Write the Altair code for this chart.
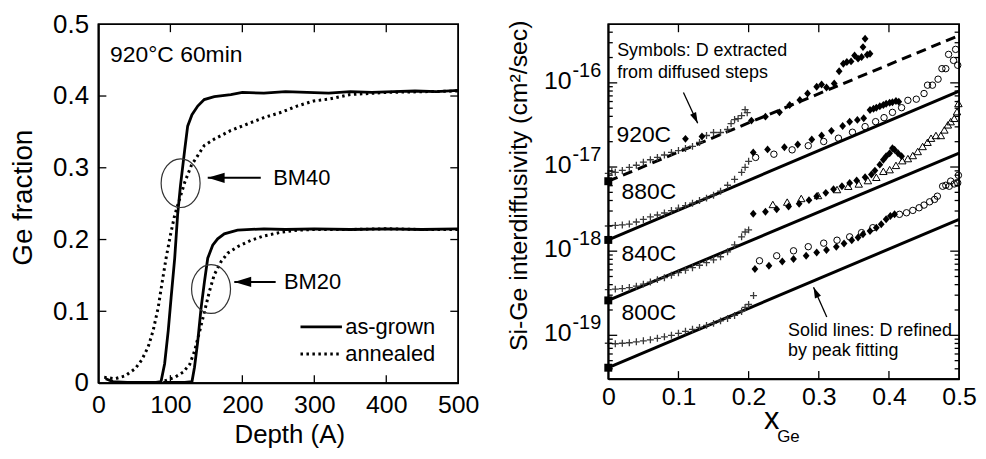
import altair as alt
import pandas as pd

FONT = "Liberation Sans"

# ================= Left panel: Ge fraction vs depth =================
bm40_grown_depth = [10, 20, 40, 60, 80, 87, 92, 97, 101, 106, 110, 114, 120, 124, 130, 138, 147, 161, 184, 200,
                    230, 260, 290, 320, 350, 380, 410, 440, 470, 500]
bm40_grown_ge = [0.006, 0.002, 0.001, 0.001, 0.001, 0.002, 0.027, 0.073, 0.119, 0.174, 0.234, 0.275, 0.326, 0.358,
                 0.374, 0.386, 0.395, 0.399, 0.402, 0.405, 0.404, 0.406, 0.405, 0.404, 0.406, 0.405, 0.406, 0.407,
                 0.406, 0.408]
bm40_anneal_depth = [8, 23, 37, 51, 60, 69, 76, 83, 88, 94, 100, 106, 113, 120, 129, 138, 147, 161, 184, 207, 230,
                     253, 276, 299, 322, 350, 400, 450, 500]
bm40_anneal_ge = [0.008, 0.006, 0.01, 0.02, 0.032, 0.05, 0.073, 0.105, 0.137, 0.174, 0.206, 0.234, 0.257, 0.28,
                  0.303, 0.317, 0.331, 0.34, 0.352, 0.361, 0.37, 0.377, 0.386, 0.393, 0.396, 0.402, 0.405, 0.406,
                  0.407]
bm20_grown_depth = [90, 120, 130, 133.5, 138, 142.6, 147.3, 151.9, 158.8, 165.7, 174.9, 193.3, 230, 260, 300, 350,
                    400, 450, 500]
bm20_grown_ge = [0.001, 0.001, 0.002, 0.022, 0.058, 0.104, 0.141, 0.174, 0.192, 0.201, 0.208, 0.213, 0.215, 0.214,
                 0.215, 0.214, 0.215, 0.214, 0.215]
bm20_anneal_depth = [92, 106, 117.6, 126.8, 133.7, 140.6, 147.5, 154.3, 161, 170.3, 179.5, 193.3, 212, 230, 253,
                     276, 300, 350, 400, 450, 500]
bm20_anneal_ge = [0.003, 0.008, 0.015, 0.026, 0.045, 0.072, 0.1, 0.128, 0.151, 0.169, 0.181, 0.19, 0.199, 0.205,
                  0.21, 0.213, 0.214, 0.214, 0.215, 0.214, 0.214]

depth_domain = [0, 500]
frac_domain = [0, 0.5]
depth_ticks = [0, 100, 200, 300, 400, 500]
frac_ticks = [0, 0.1, 0.2, 0.3, 0.4, 0.5]
depth_inner_ticks = [100, 200, 300, 400]
frac_inner_ticks = [0.1, 0.2, 0.3, 0.4]

ellipse_depth = [114.2, 156.5]
ellipse_ge = [0.2786, 0.131]
bm_labels = ["BM40", "BM20"]
bm_arrow_tail_depth = [225.6, 246.3]
bm_arrow_tip_depth = [151.9, 188.8]
bm_arrow_ge = [0.286, 0.1409]
bm_label_depth = [243, 257.9]
cond_label = ["920°C 60min"]
cond_depth = [16.2]
cond_ge = [0.447]
legend_labels = ["as-grown", "annealed"]
legend_line_start = [280.8, 280.8]
legend_line_end = [338.4, 338.4]
legend_ge = [0.0783, 0.0405]
legend_text_depth = [343, 343]

# ================= Right panel: interdiffusivity vs x_Ge =================
t920_cross_x = [0, 0.005, 0.01, 0.02, 0.03, 0.04, 0.05, 0.06, 0.07, 0.08, 0.09, 0.10, 0.11, 0.12, 0.13, 0.14, 0.15,
                0.16, 0.17, 0.175, 0.18, 0.185, 0.19, 0.195, 0.198]
t920_cross_d = [8.4e-18, 8.9e-18, 8.65e-18, 9.1e-18, 9.9e-18, 1.05e-17, 1.14e-17, 1.22e-17, 1.30e-17, 1.39e-17,
                1.49e-17, 1.57e-17, 1.66e-17, 1.76e-17, 1.96e-17, 2.37e-17, 2.57e-17, 2.57e-17, 2.79e-17, 3.28e-17,
                3.66e-17, 3.76e-17, 4.08e-17, 4.8e-17, 4.42e-17]
t920_dia_x = [0.110, 0.1335, 0.204, 0.224, 0.244, 0.2585, 0.273, 0.284, 0.297, 0.304, 0.311, 0.322, 0.329, 0.335,
              0.340, 0.346, 0.351, 0.356, 0.361, 0.363, 0.366, 0.369, 0.373]
t920_dia_d = [2.16e-17, 2.30e-17, 3.56e-17, 3.97e-17, 4.46e-17, 5.45e-17, 6.25e-17, 7.47e-17, 8.97e-17, 9.55e-17,
              8.8e-17, 9.81e-17, 1.375e-16, 1.69e-16, 1.77e-16, 1.80e-16, 2.12e-16, 1.94e-16, 2.03e-16, 2.66e-16,
              3.34e-16, 2.16e-16, 2.22e-16]

t880_cross_x = [0, 0.01, 0.02, 0.03, 0.04, 0.05, 0.06, 0.07, 0.08, 0.09, 0.10, 0.11, 0.12, 0.13, 0.14, 0.15, 0.16,
                0.17, 0.18, 0.19, 0.195, 0.2]
t880_cross_d = [1.99e-18, 2.02e-18, 2.05e-18, 2.10e-18, 2.22e-18, 2.38e-18, 2.55e-18, 2.69e-18, 2.84e-18, 3.04e-18,
                3.25e-18, 3.48e-18, 3.72e-18, 3.99e-18, 4.27e-18, 4.63e-18, 5.16e-18, 6.07e-18, 7.15e-18, 8.65e-18,
                9.91e-18, 1.17e-17]
t880_dia_x = [0.2066, 0.227, 0.251, 0.270, 0.290, 0.304, 0.318, 0.334, 0.344, 0.355, 0.364, 0.373, 0.378, 0.382,
              0.387, 0.392, 0.396, 0.401, 0.405, 0.41, 0.414]
t880_dia_d = [1.49e-17, 1.62e-17, 1.72e-17, 1.85e-17, 2.12e-17, 2.37e-17, 2.69e-17, 3.08e-17, 3.46e-17, 3.63e-17,
              3.79e-17, 4.76e-17, 4.93e-17, 5.07e-17, 5.28e-17, 5.45e-17, 5.65e-17, 5.8e-17, 5.88e-17, 6.08e-17,
              5.97e-17]
t880_circ_x = [0.21, 0.236, 0.262, 0.285, 0.307, 0.328, 0.348, 0.366, 0.381, 0.393, 0.405, 0.418, 0.427, 0.439,
               0.45, 0.455, 0.462, 0.47, 0.4755, 0.481, 0.485, 0.492, 0.495, 0.498]
t880_circ_d = [1.30e-17, 1.42e-17, 1.60e-17, 1.79e-17, 2.01e-17, 2.20e-17, 2.59e-17, 3.02e-17, 3.46e-17, 3.86e-17,
               4.46e-17, 5.07e-17, 6.2e-17, 6.4e-17, 7.47e-17, 9.39e-17, 9.39e-17, 1.106e-16, 1.475e-16, 1.475e-16,
               2.18e-16, 1.85e-16, 2.5e-16, 1.62e-16]

t840_cross_x = [0, 0.01, 0.02, 0.03, 0.04, 0.05, 0.06, 0.07, 0.08, 0.09, 0.10, 0.11, 0.12, 0.13, 0.14, 0.15, 0.16,
                0.17, 0.18, 0.19, 0.195, 0.2]
t840_cross_d = [3.49e-19, 3.54e-19, 3.59e-19, 3.69e-19, 3.84e-19, 4.06e-19, 4.29e-19, 4.59e-19, 4.84e-19, 5.18e-19,
                5.55e-19, 5.94e-19, 6.36e-19, 6.8e-19, 7.29e-19, 7.9e-19, 8.58e-19, 9.82e-19, 1.19e-18, 1.48e-18,
                1.69e-18, 1.79e-18]
t840_dia_x = [0.2066, 0.224, 0.24, 0.257, 0.272, 0.286, 0.297, 0.31, 0.321, 0.333, 0.344, 0.354, 0.366, 0.375,
              0.380, 0.387, 0.392, 0.396, 0.401, 0.405, 0.408, 0.413, 0.418]
t840_dia_d = [2.78e-18, 2.94e-18, 3.14e-18, 3.40e-18, 3.65e-18, 4.04e-18, 4.50e-18, 4.93e-18, 5.45e-18, 5.91e-18,
              6.47e-18, 6.9e-18, 7.55e-18, 8.13e-18, 9.06e-18, 1.067e-17, 1.22e-17, 1.34e-17, 1.46e-17, 1.675e-17,
              1.60e-17, 1.46e-17, 1.34e-17]
t840_tri_x = [0.2345, 0.255, 0.275, 0.299, 0.326, 0.342, 0.357, 0.370, 0.382, 0.392, 0.401, 0.41, 0.419, 0.427,
              0.434, 0.441, 0.448, 0.455, 0.46, 0.467, 0.474, 0.479, 0.484, 0.488, 0.493, 0.497, 0.499]
t840_tri_d = [3.59e-18, 3.83e-18, 4.23e-18, 4.59e-18, 5.4e-18, 5.91e-18, 6.29e-18, 6.9e-18, 7.55e-18, 8.89e-18,
              9.31e-18, 1.046e-17, 1.19e-17, 1.26e-17, 1.37e-17, 1.53e-17, 1.755e-17, 1.97e-17, 2.2e-17, 2.37e-17,
              2.37e-17, 2.76e-17, 3.17e-17, 3.46e-17, 3.79e-17, 4.55e-17, 5.69e-17]

t800_cross_x = [0, 0.01, 0.02, 0.03, 0.04, 0.05, 0.06, 0.07, 0.08, 0.09, 0.10, 0.11, 0.12, 0.13, 0.14, 0.15, 0.16,
                0.17, 0.18, 0.19, 0.195, 0.2, 0.207]
t800_cross_d = [8.05e-20, 7.94e-20, 8.05e-20, 8.16e-20, 8.38e-20, 8.61e-20, 8.85e-20, 9.22e-20, 9.6e-20, 1.0e-19,
                1.056e-19, 1.115e-19, 1.178e-19, 1.243e-19, 1.313e-19, 1.386e-19, 1.484e-19, 1.588e-19, 1.723e-19,
                1.921e-19, 2.142e-19, 2.324e-19, 2.97e-19]
t800_dia_x = [0.209, 0.229, 0.248, 0.264, 0.282, 0.297, 0.311, 0.325, 0.336, 0.347, 0.356, 0.363, 0.373, 0.382,
              0.389, 0.396, 0.402, 0.408]
t800_dia_d = [6.14e-19, 6.71e-19, 7.54e-19, 8.05e-19, 8.81e-19, 9.64e-19, 1.03e-18, 1.125e-18, 1.23e-18, 1.35e-18,
              1.45e-18, 1.59e-18, 1.74e-18, 1.90e-18, 2.09e-18, 2.39e-18, 2.62e-18, 2.74e-18]
t800_circ_x = [0.2155, 0.24, 0.264, 0.285, 0.307, 0.326, 0.344, 0.361, 0.377, 0.415, 0.425, 0.434, 0.443, 0.45,
               0.458, 0.465, 0.469, 0.4765, 0.481, 0.486, 0.488, 0.493, 0.498, 0.499]
t800_circ_d = [7.69e-19, 8.81e-19, 1.01e-18, 1.13e-18, 1.245e-18, 1.35e-18, 1.48e-18, 1.66e-18, 1.90e-18, 2.74e-18,
               2.86e-18, 3.05e-18, 3.28e-18, 3.53e-18, 3.86e-18, 4.12e-18, 4.50e-18, 5.91e-18, 6.07e-18, 5.91e-18,
               6.8e-18, 6.29e-18, 6.47e-18, 7.97e-18]

# fitted (peak fitting) lines: value at x=0 and at x=0.5
temps = ["920C", "880C", "840C", "800C"]
fit_d0 = [6.78e-18, 1.36e-18, 2.6e-19, 4.12e-20]
fit_d1 = [3.66e-16, 7.98e-17, 1.46e-17, 2.39e-18]

temp_label_x = [0.0117, 0.019, 0.019, 0.019]
temp_label_d = [2.01e-17, 4.15e-18, 7.69e-19, 1.50e-19]

note_lines = ["Symbols: D extracted", "from diffused steps", "Solid lines: D refined", "by peak fitting"]
note_x = [0.0127, 0.0127, 0.2562, 0.2562]
note_d = [2.066e-16, 1.146e-16, 9.73e-20, 5.65e-20]
note_arrow_tail_x = [0.1071, 0.3114]
note_arrow_tail_d = [7.68e-17, 1.65e-19]
note_arrow_tip_x = [0.1274, 0.2925]
note_arrow_tip_d = [3.31e-17, 3.73e-19]
note_arrow_angle = [245.2, 66.1]

xge_domain = [0, 0.5]
d_domain = [3.02e-20, 4.97e-16]
xge_ticks = [0, 0.1, 0.2, 0.3, 0.4, 0.5]
xge_inner_ticks = [0.1, 0.2, 0.3, 0.4]
decade_vals = [1e-19, 1e-18, 1e-17, 1e-16]
decade_exps = ["-19", "-18", "-17", "-16"]
minor_vals = [k * 10.0 ** e for e in range(-20, -15) for k in range(2, 10)
              if d_domain[0] <= k * 10.0 ** e <= d_domain[1]]

LW, LH = 362, 361
RW, RH = 353, 357

# inward tick lengths in data units of each axis (about 8-9 px major, 4.5 px minor)
L_TICK_DEPTH = 11.0
L_TICK_FRAC = 0.011
R_TICK_X_MAJ = 0.0127
R_TICK_X_MIN = 0.0064
R_TICK_LOG = 1.243

ELLIPSE = ("M0.8,0C0.8,0.5523,0.4418,1,0,1C-0.4418,1,-0.8,0.5523,-0.8,0C-0.8,-0.5523,-0.4418,-1,0,-1"
           "C0.4418,-1,0.8,-0.5523,0.8,0Z")
HEAD = "M0,0L1,-0.3L1,0.3Z"
CROSS = "M-1,0L1,0M0,-1L0,1"
DIAMOND = "M0,-1L0.85,0L0,1L-0.85,0Z"

FRAME_STYLE = dict(domainColor="black", domainWidth=1.6, grid=False)


def lx():
    return alt.X("x:Q", scale=alt.Scale(domain=depth_domain, nice=False, zero=False),
                 axis=alt.Axis(values=depth_ticks, format="d", labelFontSize=25, labelPadding=10,
                               labelFlush=False, labelOverlap=False, ticks=False, tickSize=0,
                               domain=True, title="Depth (A)", titleFontSize=26,
                               titleFontWeight="normal", titleX=192, titleY=60,
                               titleBaseline="alphabetic", titleAlign="center", **FRAME_STYLE))


def ly():
    return alt.Y("y:Q", scale=alt.Scale(domain=frac_domain, nice=False, zero=False),
                 axis=alt.Axis(values=frac_ticks, format="~g", labelFontSize=26, labelPadding=10,
                               labelOverlap=False, ticks=False, tickSize=0, domain=True,
                               title="Ge fraction", titleFontSize=28, titleFontWeight="normal",
                               titleAngle=270, titleX=-67, titleY=174, titleBaseline="alphabetic",
                               titleAlign="center", **FRAME_STYLE))


def rx():
    return alt.X("x:Q", scale=alt.Scale(domain=xge_domain, nice=False, zero=False),
                 axis=alt.Axis(values=xge_ticks, format="~g", labelFontSize=25, labelPadding=6,
                               labelFlush=False, labelOverlap=False, ticks=False, tickSize=0,
                               domain=True, title="x", titleFontSize=31,
                               titleFontWeight="normal", titleX=164, titleY=50,
                               titleBaseline="alphabetic", titleAlign="center", **FRAME_STYLE))


def ry():
    return alt.Y("y:Q", scale=alt.Scale(type="log", domain=d_domain, nice=False),
                 axis=alt.Axis(labels=False, ticks=False, tickSize=0, domain=True,
                               title="Si-Ge interdiffusivity (cm²/sec)", titleFontSize=25,
                               titleFontWeight="normal", titleAngle=270, titleX=-82, titleY=162,
                               titleBaseline="alphabetic", titleAlign="center", **FRAME_STYLE))


def curve_df(items):
    rows = []
    for name, xs, ys in items:
        for a, b in zip(xs, ys):
            rows.append({"x": a, "y": b, "series": name})
    return pd.DataFrame(rows)


def frame(xd, yd, xenc, yenc):
    df = pd.DataFrame({"x": [xd[0], xd[1], xd[1], xd[0], xd[0]],
                       "y": [yd[0], yd[0], yd[1], yd[1], yd[0]],
                       "o": [0, 1, 2, 3, 4]})
    return alt.Chart(df).mark_line(color="black", strokeWidth=1.6).encode(x=xenc, y=yenc, order="o:Q")


def seg_rules(rows, xenc, yenc, width=1.3):
    df = pd.DataFrame(rows, columns=["x", "y", "x2", "y2"])
    return alt.Chart(df).mark_rule(color="black", strokeWidth=width).encode(
        x=xenc, y=yenc, x2="x2:Q", y2="y2:Q")


# ---------------- left layers ----------------
solid_df = curve_df([("BM40 as-grown", bm40_grown_depth, bm40_grown_ge),
                     ("BM20 as-grown", bm20_grown_depth, bm20_grown_ge)])
dotted_df = curve_df([("BM40 annealed", bm40_anneal_depth, bm40_anneal_ge),
                      ("BM20 annealed", bm20_anneal_depth, bm20_anneal_ge)])

l_solid = alt.Chart(solid_df).mark_line(color="black", strokeWidth=2.8).encode(
    x=lx(), y=ly(), detail="series:N")
l_dotted = alt.Chart(dotted_df).mark_line(color="black", strokeWidth=3, strokeDash=[2.5, 3.5]).encode(
    x=lx(), y=ly(), detail="series:N")

ell_df = pd.DataFrame({"x": ellipse_depth, "y": ellipse_ge})
l_ell = alt.Chart(ell_df).mark_point(shape=ELLIPSE, size=2401, filled=False, color="#333",
                                     strokeWidth=1.2, opacity=1).encode(x=lx(), y=ly())

barr_df = pd.DataFrame({"x": bm_arrow_tail_depth, "x2": bm_arrow_tip_depth, "y": bm_arrow_ge, "y2": bm_arrow_ge})
l_arr = alt.Chart(barr_df).mark_rule(color="black", strokeWidth=2).encode(
    x=lx(), x2="x2:Q", y=ly(), y2="y2:Q")
bhead_df = pd.DataFrame({"x": bm_arrow_tip_depth, "y": bm_arrow_ge})
l_head = alt.Chart(bhead_df).mark_point(shape=HEAD, size=1156, filled=True, color="black",
                                        opacity=1, strokeWidth=0).encode(x=lx(), y=ly())

bm_df = pd.DataFrame({"x": bm_label_depth, "y": bm_arrow_ge, "t": bm_labels})
l_bm = alt.Chart(bm_df).mark_text(font=FONT, fontSize=22, align="left", baseline="middle",
                                  color="black").encode(x=lx(), y=ly(), text="t:N")
cond_df = pd.DataFrame({"x": cond_depth, "y": cond_ge, "t": cond_label})
l_cond = alt.Chart(cond_df).mark_text(font=FONT, fontSize=23, align="left", baseline="alphabetic",
                                      color="black").encode(x=lx(), y=ly(), text="t:N")

leg_df = pd.DataFrame({"x": legend_line_start, "x2": legend_line_end, "y": legend_ge, "y2": legend_ge})
l_leg_solid = alt.Chart(leg_df.iloc[[0]]).mark_rule(color="black", strokeWidth=2.8).encode(
    x=lx(), x2="x2:Q", y=ly(), y2="y2:Q")
l_leg_dot = alt.Chart(leg_df.iloc[[1]]).mark_rule(color="black", strokeWidth=3, strokeDash=[2.5, 3.5]).encode(
    x=lx(), x2="x2:Q", y=ly(), y2="y2:Q")
leg_txt_df = pd.DataFrame({"x": legend_text_depth, "y": legend_ge, "t": legend_labels})
l_leg_txt = alt.Chart(leg_txt_df).mark_text(font=FONT, fontSize=22, align="left", baseline="middle",
                                            color="black").encode(x=lx(), y=ly(), text="t:N")

l_tick_rows = []
for v in depth_inner_ticks:
    l_tick_rows.append([v, frac_domain[0], v, frac_domain[0] + L_TICK_FRAC])
    l_tick_rows.append([v, frac_domain[1], v, frac_domain[1] - L_TICK_FRAC])
for v in frac_inner_ticks:
    l_tick_rows.append([depth_domain[0], v, depth_domain[0] + L_TICK_DEPTH, v])
    l_tick_rows.append([depth_domain[1], v, depth_domain[1] - L_TICK_DEPTH, v])
l_ticks = seg_rules(l_tick_rows, lx(), ly())
l_frame = frame(depth_domain, frac_domain, lx(), ly())

left = alt.layer(l_solid, l_dotted, l_ell, l_arr, l_head, l_bm, l_cond, l_leg_solid, l_leg_dot, l_leg_txt,
                 l_ticks, l_frame).properties(width=LW, height=LH)

# ---------------- right layers ----------------
fit_rows = []
for t, a, b in zip(temps, fit_d0, fit_d1):
    fit_rows.append({"x": 0.0, "y": a, "series": t})
    fit_rows.append({"x": 0.5, "y": b, "series": t})
fit_df = pd.DataFrame(fit_rows)
r_solid = alt.Chart(fit_df[fit_df.series != "920C"]).mark_line(color="black", strokeWidth=3).encode(
    x=rx(), y=ry(), detail="series:N")
r_dash = alt.Chart(fit_df[fit_df.series == "920C"]).mark_line(color="black", strokeWidth=3,
                                                             strokeDash=[10, 6]).encode(x=rx(), y=ry())

cross_df = curve_df([("920C", t920_cross_x, t920_cross_d), ("880C", t880_cross_x, t880_cross_d),
                     ("840C", t840_cross_x, t840_cross_d), ("800C", t800_cross_x, t800_cross_d)])
dia_df = curve_df([("920C", t920_dia_x, t920_dia_d), ("880C", t880_dia_x, t880_dia_d),
                   ("840C", t840_dia_x, t840_dia_d), ("800C", t800_dia_x, t800_dia_d)])
circ_df = curve_df([("880C", t880_circ_x, t880_circ_d), ("800C", t800_circ_x, t800_circ_d)])
tri_df = curve_df([("840C", t840_tri_x, t840_tri_d)])
sq_df = pd.DataFrame({"x": [0.0] * 4, "y": fit_d0, "series": temps})

r_cross = alt.Chart(cross_df).mark_point(shape=CROSS, size=49, filled=False, color="#3a3a3a",
                                         strokeWidth=1.3, opacity=1).encode(x=rx(), y=ry())
r_circ = alt.Chart(circ_df).mark_point(shape="circle", size=42, filled=False, color="black",
                                       strokeWidth=1, opacity=1).encode(x=rx(), y=ry())
r_tri = alt.Chart(tri_df).mark_point(shape="triangle-up", size=56, filled=False, color="black",
                                     strokeWidth=1, opacity=1).encode(x=rx(), y=ry())
r_dia = alt.Chart(dia_df).mark_point(shape=DIAMOND, size=64, filled=True, color="black",
                                     opacity=1, strokeWidth=0).encode(x=rx(), y=ry())
r_sq = alt.Chart(sq_df).mark_point(shape="square", size=64, filled=True, color="black",
                                   opacity=1, strokeWidth=0).encode(x=rx(), y=ry())

tl_df = pd.DataFrame({"x": temp_label_x, "y": temp_label_d, "t": temps})
r_tl = alt.Chart(tl_df).mark_text(font=FONT, fontSize=23, align="left", baseline="alphabetic",
                                  color="black").encode(x=rx(), y=ry(), text="t:N")
note_df = pd.DataFrame({"x": note_x, "y": note_d, "t": note_lines})
r_note = alt.Chart(note_df).mark_text(font=FONT, fontSize=18, align="left", baseline="alphabetic",
                                      color="black").encode(x=rx(), y=ry(), text="t:N")
narr_df = pd.DataFrame({"x": note_arrow_tail_x, "y": note_arrow_tail_d,
                        "x2": note_arrow_tip_x, "y2": note_arrow_tip_d})
r_narr = alt.Chart(narr_df).mark_rule(color="black", strokeWidth=1.3).encode(
    x=rx(), y=ry(), x2="x2:Q", y2="y2:Q")
nhead_df = pd.DataFrame({"x": note_arrow_tip_x, "y": note_arrow_tip_d, "a": note_arrow_angle})
r_nhead = alt.Chart(nhead_df).mark_point(shape=HEAD, size=484, filled=True, color="black",
                                         opacity=1, strokeWidth=0).encode(
    x=rx(), y=ry(), angle=alt.Angle("a:Q", scale=None))

dec_df = pd.DataFrame({"y": decade_vals, "exp": decade_exps, "base": ["10"] * 4})
r_dec10 = alt.Chart(dec_df).mark_text(font=FONT, fontSize=25, align="right", baseline="alphabetic",
                                      dy=6, color="black").encode(y=ry(), x=alt.value(-37), text="base:N")
r_decexp = alt.Chart(dec_df).mark_text(font=FONT, fontSize=20, align="left", baseline="alphabetic",
                                       dy=-6, color="black").encode(y=ry(), x=alt.value(-36), text="exp:N")
sub_df = pd.DataFrame({"t": ["Ge"]})
r_sub = alt.Chart(sub_df).mark_text(font=FONT, fontSize=17, align="left", baseline="alphabetic",
                                    color="black").encode(x=alt.value(170), y=alt.value(420), text="t:N")

r_tick_rows = []
for v in xge_inner_ticks:
    r_tick_rows.append([v, d_domain[0], v, d_domain[0] * R_TICK_LOG])
    r_tick_rows.append([v, d_domain[1], v, d_domain[1] / R_TICK_LOG])
for v in decade_vals:
    r_tick_rows.append([xge_domain[0], v, xge_domain[0] + R_TICK_X_MAJ, v])
    r_tick_rows.append([xge_domain[1], v, xge_domain[1] - R_TICK_X_MAJ, v])
for v in minor_vals:
    r_tick_rows.append([xge_domain[0], v, xge_domain[0] + R_TICK_X_MIN, v])
    r_tick_rows.append([xge_domain[1], v, xge_domain[1] - R_TICK_X_MIN, v])
r_ticks = seg_rules(r_tick_rows, rx(), ry())
r_frame = frame(xge_domain, d_domain, rx(), ry())

right = alt.layer(r_solid, r_dash, r_cross, r_circ, r_tri, r_dia, r_sq, r_tl, r_note, r_narr, r_nhead,
                  r_dec10, r_decexp, r_sub, r_ticks, r_frame).properties(width=RW, height=RH)

chart = alt.hconcat(left, right, spacing=151, bounds="flush").properties(
    padding={"left": 1, "top": 1, "right": 0, "bottom": 0}
).configure_axis(
    labelFont=FONT, titleFont=FONT, labelColor="black", titleColor="black"
).configure_view(stroke="black", strokeWidth=1.5)

chart.save("out.html", embed_options={"renderer": "svg", "actions": False})
